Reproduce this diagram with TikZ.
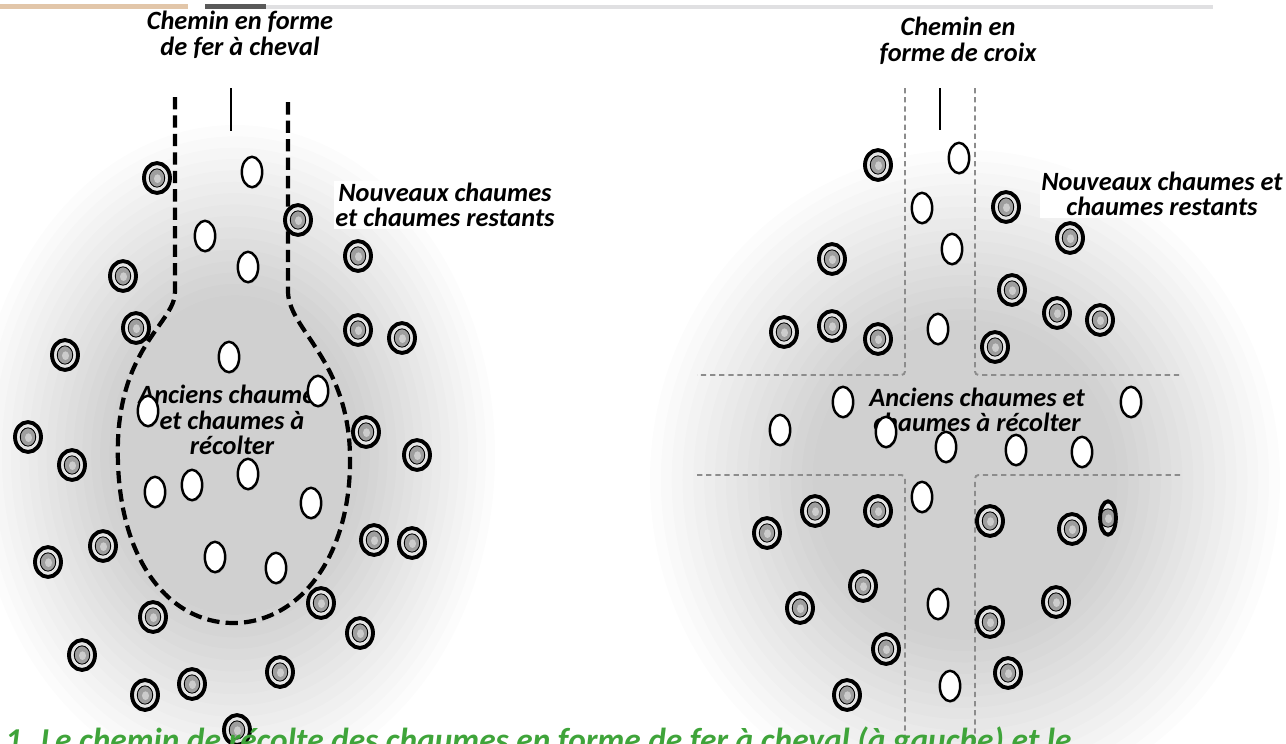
\documentclass[tikz,border=0pt]{standalone}
\usepackage{fontspec}
\setmainfont{Carlito}
\usetikzlibrary{shapes.geometric,shadows}
\definecolor{legendgreen}{HTML}{3FA43A}

\begin{document}
\begin{tikzpicture}[x=0.02cm, y=-0.02cm,
  newculm/.style={ellipse, draw, line width=2.2pt, fill=black!10, minimum width=14.8pt, minimum height=17pt, inner sep=0pt,
    drop shadow={shadow xshift=0.7pt, shadow yshift=-1pt, opacity=0.3, fill=black},
    path picture={\draw[line width=0.5pt, fill=black!38] (path picture bounding box.center) ellipse (4.4pt and 5.2pt);
      \fill[black!20] ([xshift=0.3pt, yshift=-0.4pt]path picture bounding box.center) ellipse (2pt and 2.5pt);}},
  oldculm/.style={ellipse, draw, line width=1.4pt, fill=white, minimum width=11.6pt, minimum height=17.3pt, inner sep=0pt,
    drop shadow={shadow xshift=0.6pt, shadow yshift=-0.8pt, opacity=0.25, fill=black}},
  lbl/.style={font=\bfseries\itshape\fontsize{15}{14.5}\selectfont, align=center, inner sep=1pt},
  horseshoe/.style={line width=2.4pt, dash pattern=on 7pt off 3.5pt},
  crosspath/.style={black!45, line width=1.1pt, dash pattern=on 3pt off 2.2pt, rounded corners=2pt},
  haze/.style={black, opacity=0.011}]
\useasboundingbox (0,0) rectangle (1286,744);
\clip (0,0) rectangle (1286,744);

\foreach \k in {1,...,16}
  \fill[haze] (235,455) ellipse [x radius=260*(0.45+0.55*\k/16), y radius=330*(0.45+0.55*\k/16)];
\foreach \k in {1,...,16}
  \fill[haze] (965,480) ellipse [x radius=315*(0.45+0.55*\k/16), y radius=330*(0.45+0.55*\k/16)];

\fill[brown!45] (0,4) rectangle (188,9);
\fill[black!65] (205,4) rectangle (266,9);
\fill[blue!6!black!12] (266,5) rectangle (1213,9);

\node[lbl] (titleL) at (240,35) {Chemin en forme\\de fer à cheval};
\node[lbl] (titleR) at (958,41) {Chemin en\\forme de croix};

\draw[horseshoe] (175,97) -- (175,292) .. controls (175,322) and (122,345) .. (118,440) .. controls (114,560) and (170,623) .. (233,623) .. controls (300,623) and (352,555) .. (350,455) .. controls (348,360) and (289,330) .. (288,292) -- (288,97);
\draw[line width=1.3pt] (231,88) -- (231,131);

\draw[crosspath] (905,88) -- (905,375) -- (697,375);
\draw[crosspath] (975,88) -- (975,375) -- (1180,375);
\draw[crosspath] (697,475) -- (905,475) -- (905,744);
\draw[crosspath] (1180,475) -- (975,475) -- (975,744);
\draw[line width=1.3pt] (940,88) -- (940,130);

\node[lbl] (oldtxtL) at (232,420) {Anciens chaumes\\et chaumes à\\récolter};
\node[lbl] (oldtxtR) at (977,410) {Anciens chaumes et\\chaumes à récolter};

\node[newculm] (nl1) at (157,178) {};
\node[newculm] (nl2) at (298,220) {};
\node[newculm] (nl3) at (358,256) {};
\node[newculm] (nl4) at (123,276) {};
\node[newculm] (nl5) at (136,328) {};
\node[newculm] (nl6) at (65,355) {};
\node[newculm] (nl7) at (358,330) {};
\node[newculm] (nl8) at (402,338) {};
\node[newculm] (nl9) at (28,437) {};
\node[newculm] (nl10) at (72,465) {};
\node[newculm] (nl11) at (366,432) {};
\node[newculm] (nl12) at (417,455) {};
\node[newculm] (nl13) at (103,546) {};
\node[newculm] (nl14) at (48,562) {};
\node[newculm] (nl15) at (374,540) {};
\node[newculm] (nl16) at (412,543) {};
\node[newculm] (nl17) at (321,603) {};
\node[newculm] (nl18) at (153,617) {};
\node[newculm] (nl19) at (360,633) {};
\node[newculm] (nl20) at (82,655) {};
\node[newculm] (nl21) at (280,672) {};
\node[newculm] (nl22) at (192,684) {};
\node[newculm] (nl23) at (145,695) {};
\node[newculm] (nl24) at (237,730) {};

\node[oldculm] (ol1) at (252,172) {};
\node[oldculm] (ol2) at (205,236) {};
\node[oldculm] (ol3) at (248,267) {};
\node[oldculm] (ol4) at (229,357) {};
\node[oldculm] (ol5) at (318,391) {};
\node[oldculm] (ol6) at (148,411) {};
\node[oldculm] (ol7) at (155,492) {};
\node[oldculm] (ol8) at (192,485) {};
\node[oldculm] (ol9) at (248,474) {};
\node[oldculm] (ol10) at (311,503) {};
\node[oldculm] (ol11) at (215,557) {};
\node[oldculm] (ol12) at (276,568) {};

\node[newculm] (nr1) at (878,165) {};
\node[newculm] (nr2) at (1006,207) {};
\node[newculm] (nr3) at (1070,238) {};
\node[newculm] (nr4) at (832,259) {};
\node[newculm] (nr5) at (1012,290) {};
\node[newculm] (nr6) at (1057,313) {};
\node[newculm] (nr7) at (1100,320) {};
\node[newculm] (nr8) at (784,332) {};
\node[newculm] (nr9) at (832,326) {};
\node[newculm] (nr10) at (878,339) {};
\node[newculm] (nr11) at (995,347) {};
\node[newculm] (nr12) at (767,533) {};
\node[newculm] (nr13) at (815,511) {};
\node[newculm] (nr14) at (878,511) {};
\node[newculm] (nr15) at (990,521) {};
\node[newculm] (nr16) at (1072,529) {};
\node[newculm, minimum width=9pt, minimum height=19pt] (nr17) at (1108,518) {};
\node[newculm] (nr18) at (863,586) {};
\node[newculm] (nr19) at (1056,602) {};
\node[newculm] (nr20) at (800,608) {};
\node[newculm] (nr21) at (990,622) {};
\node[newculm] (nr22) at (886,649) {};
\node[newculm] (nr23) at (1008,673) {};
\node[newculm] (nr24) at (847,695) {};

\node[oldculm] (or1) at (959,158) {};
\node[oldculm] (or2) at (922,208) {};
\node[oldculm] (or3) at (952,249) {};
\node[oldculm] (or4) at (938,329) {};
\node[oldculm] (or5) at (843,402) {};
\node[oldculm] (or6) at (1131,402) {};
\node[oldculm] (or7) at (780,430) {};
\node[oldculm] (or8) at (886,432) {};
\node[oldculm] (or9) at (946,447) {};
\node[oldculm] (or10) at (1016,450) {};
\node[oldculm] (or11) at (1082,452) {};
\node[oldculm] (or12) at (922,497) {};
\node[oldculm] (or13) at (938,604) {};
\node[oldculm] (or14) at (950,686) {};

\node[lbl, fill=white] (newtxtL) at (445,205) {Nouveaux chaumes\\et chaumes restants};
\node[lbl, fill=white] (newtxtR) at (1162,194) {Nouveaux chaumes et\\chaumes restants};

\node[lbl, text=legendgreen, font=\bfseries\itshape\fontsize{19}{20}\selectfont, anchor=base west] (legend) at (3,751) {1. Le chemin de récolte des chaumes en forme de fer à cheval (à gauche) et le};
\end{tikzpicture}
\end{document}
